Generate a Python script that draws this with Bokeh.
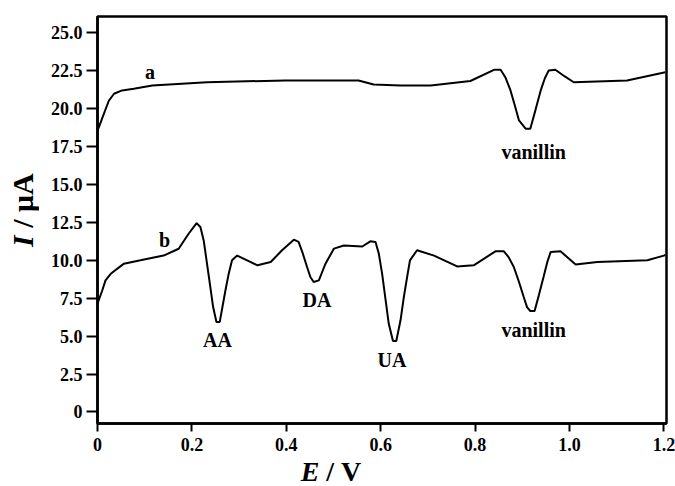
from bokeh.plotting import figure
from bokeh.models import Range1d, ColumnDataSource, FixedTicker, Div
from bokeh.layouts import row, column
from bokeh.core.properties import value
from bokeh.embed import file_html
from bokeh.resources import INLINE

# Curve a
E_a = [0.0, 0.003, 0.013, 0.024, 0.035, 0.052, 0.077, 0.116, 0.232, 0.398,
       0.553, 0.585, 0.642, 0.706, 0.790, 0.840, 0.854, 0.864, 0.875, 0.884,
       0.893, 0.907, 0.917, 0.928, 0.939, 0.948, 0.956, 0.970, 0.990, 1.009,
       1.122, 1.203]
I_a = [18.55, 18.76, 19.6, 20.5, 20.96, 21.18, 21.29, 21.5, 21.72, 21.84,
       21.84, 21.57, 21.5, 21.5, 21.8, 22.54, 22.54, 22.05, 21.18, 20.2,
       19.2, 18.66, 18.66, 19.9, 21.18, 22.0, 22.5, 22.54, 22.1, 21.72,
       21.84, 22.38]

# Curve b
E_b = [0.0, 0.010, 0.017, 0.028, 0.056, 0.091, 0.140, 0.172, 0.193, 0.210,
       0.218, 0.225, 0.232, 0.238, 0.245, 0.252, 0.259, 0.271, 0.278, 0.285,
       0.296, 0.317, 0.339, 0.367, 0.391, 0.416, 0.426, 0.434, 0.444, 0.451,
       0.458, 0.469, 0.476, 0.483, 0.501, 0.522, 0.561, 0.578, 0.589, 0.596,
       0.603, 0.610, 0.617, 0.626, 0.633, 0.642, 0.649, 0.656, 0.662, 0.677,
       0.713, 0.762, 0.797, 0.843, 0.861, 0.871, 0.882, 0.893, 0.903, 0.910,
       0.917, 0.926, 0.935, 0.945, 0.953, 0.960, 0.981, 1.013, 1.059, 1.165,
       1.200, 1.203]
I_b = [7.14, 8.0, 8.67, 9.1, 9.77, 9.99, 10.3, 10.75, 11.74, 12.44,
       12.18, 11.3, 9.77, 8.45, 6.91, 5.93, 5.93, 8.0, 9.11, 9.99,
       10.3, 9.99, 9.66, 9.88, 10.65, 11.35, 11.2, 10.53, 9.55, 8.89,
       8.56, 8.67, 9.22, 9.77, 10.76, 10.97, 10.9, 11.24, 11.2, 10.43,
       9.11, 7.47, 5.82, 4.67, 4.67, 6.04, 7.57, 8.89, 9.99, 10.65,
       10.3, 9.59, 9.66, 10.58, 10.58, 10.2, 9.55, 8.56, 7.57, 6.91,
       6.65, 6.65, 7.68, 8.89, 9.88, 10.53, 10.58, 9.72, 9.88, 9.99,
       10.3, 10.35]

# Annotations
ann_text = ["a", "b", "AA", "DA", "UA", "vanillin", "vanillin"]
ann_E = [0.111, 0.142, 0.254, 0.465, 0.624, 0.924, 0.924]
ann_I = [22.38, 11.30, 4.72, 7.35, 3.40, 17.12, 5.38]

x_ticks = [0, 0.2, 0.4, 0.6, 0.8, 1.0, 1.2]
x_tick_labels = ["0", "0.2", "0.4", "0.6", "0.8", "1.0", "1.2"]
y_ticks = [0, 2.5, 5, 7.5, 10, 12.5, 15, 17.5, 20, 22.5, 25]
y_tick_labels = ["0", "2.5", "5.0", "7.5", "10.0", "12.5", "15.0", "17.5",
                 "20.0", "22.5", "25.0"]

x_title_sym, x_title_unit = "E", " / V"
y_title_sym, y_title_unit = "I", " / μA"

FONT = "Liberation Serif"

p = figure(width=629, height=458, output_backend="svg", toolbar_location=None,
           x_range=Range1d(0, 1.2055), y_range=Range1d(-0.76, 26.05),
           min_border_left=51, min_border_right=9, min_border_top=16,
           min_border_bottom=35, background_fill_color="white",
           border_fill_color="white", margin=0)
p.grid.visible = False
p.outline_line_color = "black"
p.outline_line_width = 2.5
p.outline_line_alpha = 1

for ax in (p.xaxis, p.yaxis):
    ax.axis_line_width = 2.5
    ax.axis_line_color = "black"
    ax.major_tick_line_width = 2
    ax.major_tick_line_color = "black"
    ax.minor_tick_line_color = None
    ax.major_tick_in = 0
    ax.major_label_text_font = FONT
    ax.major_label_text_font_style = "bold"
    ax.major_label_text_font_size = "18px"
    ax.major_label_text_color = "black"

p.xaxis.major_tick_out = 8
p.yaxis.major_tick_out = 11
p.xaxis.major_label_standoff = 6
p.yaxis.major_label_standoff = 4
p.xaxis.ticker = FixedTicker(ticks=x_ticks)
p.yaxis.ticker = FixedTicker(ticks=y_ticks)
p.xaxis.major_label_overrides = {t: l for t, l in zip(x_ticks, x_tick_labels)}
p.yaxis.major_label_overrides = {t: l for t, l in zip(y_ticks, y_tick_labels)}

p.line(E_a, I_a, line_color="black", line_width=2)
p.line(E_b, I_b, line_color="black", line_width=2)

src = ColumnDataSource(dict(x=ann_E, y=ann_I, t=ann_text))
p.text(x="x", y="y", text="t", source=src, text_font=value(FONT),
       text_font_style="bold", text_font_size="20px", text_align="center",
       text_baseline="middle", text_color="black")

title_css = ("font-family:'Liberation Serif';font-weight:bold;"
             "color:black;white-space:nowrap;")
ydiv = Div(width=46, height=486, margin=0,
           text=(f'<div style="{title_css}font-size:30px;writing-mode:vertical-rl;'
                 'transform:rotate(180deg);width:46px;height:420px;'
                 'line-height:46px;text-align:center;">'
                 f'<i>{y_title_sym}</i>{y_title_unit.replace(" ", "&nbsp;")}</div>'))
xdiv = Div(width=629, height=28, margin=0,
           text=(f'<div style="{title_css}font-size:28px;width:570px;'
                 'height:28px;line-height:28px;text-align:center;">'
                 f'<i>{x_title_sym}</i>{x_title_unit.replace(" ", "&nbsp;")}</div>'))

layout = row(ydiv, column(p, xdiv))

open("out.html", "w").write(file_html(layout, INLINE))
